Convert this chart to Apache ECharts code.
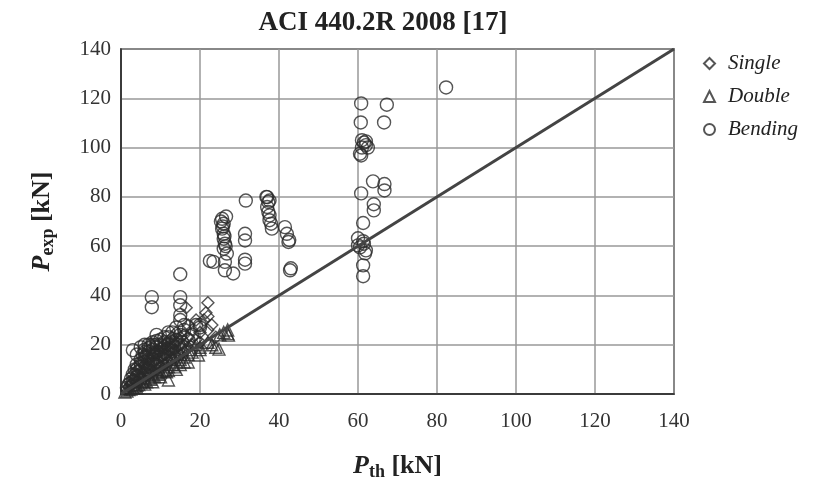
<!DOCTYPE html>
<html><head><meta charset="utf-8">
<script src="https://cdn.jsdelivr.net/npm/echarts@6/dist/echarts.min.js"></script>
<style>html,body{margin:0;padding:0;background:#fff}#c{width:826px;height:484px}</style>
</head><body><div id="c"></div>
<script>
const xTicks = [0,20,40,60,80,100,120,140];
const yTicks = [0,20,40,60,80,100,120,140];
const singleData = [[1.5,2],[2,3],[2.5,4],[3,4.5],[3.5,6],[4,5],[4,8],[5,7],[5,9],[6,7],[6,10],[7,8],[7,12],[8,9],[8,13],[9,10],[9,14],[10,11],[10,15],[11,12],[11,16],[12,13],[12,18],[13,14],[13,19],[14,15],[14,21],[15,16],[15,23],[16,17],[16,24],[17,19],[16.5,35],[18,20],[18,26],[19,22],[20,21],[20,25],[21,30],[22,37],[21.5,33],[22,31.5],[22,20.6],[23,28],[24,23],[22,26],[19,30],[17,28],[6,16],[5,13],[4,11],[3,8],[2,5],
[3,6],[4,9.5],[5,10.5],[6,12],[7,14],[8,15.5],[9,17],[10,18.5],[11,20],[12,21.5],[13,23],[14,25],[7,11],[9,12.5],[11,14.5],[13,17],[15,20],[17,23]];
const doubleData = [[1,0.8],[1.5,1.2],[2,1.8],[2.5,2],[3,2.5],[3.5,3],[4,3.5],[4.5,3.8],[5,4.5],[5.5,5],[6,5.5],[6.5,5],[7,6.5],[7.5,6],[8,7.5],[8.5,7],[9,8.5],[9.5,8],[10,9],[10.5,9.5],[11,10],[11.5,9],[12,5.7],[12,11],[13,12],[13.5,11],[14,13],[15,12],[15,14],[16,15],[17,16],[18,17],[19.6,15.8],[20,19],[22,21],[24,19],[24.8,18.2],[26,25],[27.2,23.9],[27,26],[8,5],[10,7],[6,4],[4,2.5],[14,10],[17,13],[20,18],[23,20],[25,24],[27,24.5],
[3,4],[5,6.5],[7,8],[9,10],[11,12],[13,14],[15,16],[17,18],[19,20],[12,9.5],[16,13]];
const bendingData = [[2,4],[2.5,6],[3,5],[3,8],[3.5,10],[4,7],[4,12],[4.5,9],[5,6],[5,11],[5,14],[5.5,16],[6,8],[6,13],[6,18],[6.5,15],[7,10],[7,17],[7,20],[7.5,12],[7.5,19],[8,14],[8,18],[8,21],[8.5,16],[9,12],[9,17],[9,20],[9.5,15],[10,13],[10,18],[10,22],[10.5,16],[11,14],[11,19],[11.5,17],[12,15],[12,20],[12,23],[12.5,18],[13,16],[13,21],[13.5,19],[14,17],[14,22],[14.5,20],[15,18],[15,24],[15.5,21],[16,19],[16,26],[17,22],[18,24],[19,28],[20,28],[14,27],[13,25],[9,24],[6,20],[4,16],[3,17.8],[5,19],[7,9],[3,3.5],[1.5,2.5],
[4,10],[5,12.5],[6,15],[6.5,11],[7,14],[8,16.5],[8.5,12.5],[9,19],[10,16],[11,21],[11,17],[12,18.5],[13,19.5],[6,17],[7,18.5],[8,20],[9,21.5],[10,20],[11,23],[12,25],
[7.8,39.3],[7.8,35.2],[15,48.6],[15,39.3],[15,36],[15,32],[15,30],[16,28],[20,27],
[23.4,53.6],[22.5,54],[26.3,53.6],[26.3,50.2],[28.4,48.9],[31.4,52.9],[31.4,54.5],[31.4,65],[31.4,62.3],[31.6,78.5],
[25.6,71.1],[26,69.1],[25.6,67.1],[26,65],[26,63],[26.3,61],[26,59],[25.3,70],[26.6,72],[26.8,57],[25.8,68],[26.2,64],[26.5,60],
[37,79.9],[37.3,77.9],[37,75.9],[37.3,73.9],[37.6,72.5],[37.6,70.5],[38,69.1],[38.2,67.1],[36.8,80],[37.6,78.5],
[41.5,67.7],[42,65],[42.4,61.7],[42.6,62.5],[42.8,50.2],[43,51],
[60.8,117.9],[67.3,117.4],[60.7,110.2],[66.6,110.2],[82.3,124.4],
[61,103],[61.5,102],[62,101],[61,100],[62,102.5],[60.5,97.5],[62.5,100],[60.8,96.8],
[63.8,86.3],[66.7,85.2],[66.7,82.6],[60.8,81.4],[64,77],[64,74.5],[61.3,69.4],
[60,63.2],[61.5,61],[60.5,59.5],[62,58.3],[60,60.3],[61.8,57.1],[61.3,62],
[61.3,52.2],[61.3,47.8]];
const diagLine = [[0,0],[140,140]];

const serif = 'Liberation Serif';
const markColor = '#2a2a2a';
const chart = echarts.init(document.getElementById('c'));
chart.setOption({
  animation:false,
  backgroundColor:'#fff',
  title:{text:'ACI 440.2R 2008 [17]', left:378, top:5, textAlign:'center',
    textStyle:{fontFamily:serif, fontWeight:'bold', fontSize:27, color:'#222'}},
  legend:{orient:'vertical', left:698, top:48, itemWidth:11, itemHeight:11, itemGap:12,
    data:['Single','Double','Bending'],
    textStyle:{fontFamily:serif, fontStyle:'italic', fontSize:21, color:'#222', padding:[0,0,0,8]}},
  grid:{left:121, right:152, top:49, bottom:90, show:true, borderColor:'#222', borderWidth:1.5,
    outerBoundsMode:'none', containLabel:false},
  xAxis:{type:'value', min:0, max:140, interval:20,
    axisLine:{lineStyle:{color:'#222', width:1.5}}, axisTick:{show:false},
    splitLine:{lineStyle:{color:'#999', width:1.5}},
    axisLabel:{fontFamily:serif, fontSize:21, color:'#333', margin:17,
      formatter:v=>xTicks.includes(v)?String(v):''},
    name:'{p|P}{s|th}{k| [kN]}', nameLocation:'middle', nameGap:57,
    nameTextStyle:{rich:{
      p:{fontFamily:serif, fontSize:26, fontStyle:'italic', fontWeight:'bold', color:'#222'},
      s:{fontFamily:serif, fontSize:18, fontWeight:'bold', color:'#222', padding:[12,0,0,0]},
      k:{fontFamily:serif, fontSize:26, fontWeight:'bold', color:'#222'}}}},
  yAxis:{type:'value', min:0, max:140, interval:20,
    axisLine:{lineStyle:{color:'#222', width:1.5}}, axisTick:{show:false},
    splitLine:{lineStyle:{color:'#999', width:1.5}},
    axisLabel:{fontFamily:serif, fontSize:21, color:'#333', margin:10,
      formatter:v=>yTicks.includes(v)?String(v):''},
    name:'{p|P}{s|exp}{k| [kN]}', nameLocation:'middle', nameGap:64, nameRotate:90,
    nameTextStyle:{rich:{
      p:{fontFamily:serif, fontSize:26, fontStyle:'italic', fontWeight:'bold', color:'#222'},
      s:{fontFamily:serif, fontSize:18, fontWeight:'bold', color:'#222', padding:[12,0,0,0]},
      k:{fontFamily:serif, fontSize:26, fontWeight:'bold', color:'#222'}}}},
  series:[
    {name:'Single', type:'scatter', symbol:'diamond', symbolSize:12, data:singleData,
      itemStyle:{color:'rgba(0,0,0,0)', borderColor:markColor, borderWidth:1.4}},
    {name:'Double', type:'scatter', symbol:'triangle', symbolSize:12, data:doubleData,
      itemStyle:{color:'rgba(0,0,0,0)', borderColor:markColor, borderWidth:1.4}},
    {name:'Bending', type:'scatter', symbol:'circle', symbolSize:13, data:bendingData,
      itemStyle:{color:'rgba(0,0,0,0)', borderColor:markColor, borderWidth:1.4}},
    {name:'fit', type:'line', data:diagLine, symbol:'none', silent:true,
      lineStyle:{color:'#444', width:3}, z:3}
  ]
});
</script></body></html>
